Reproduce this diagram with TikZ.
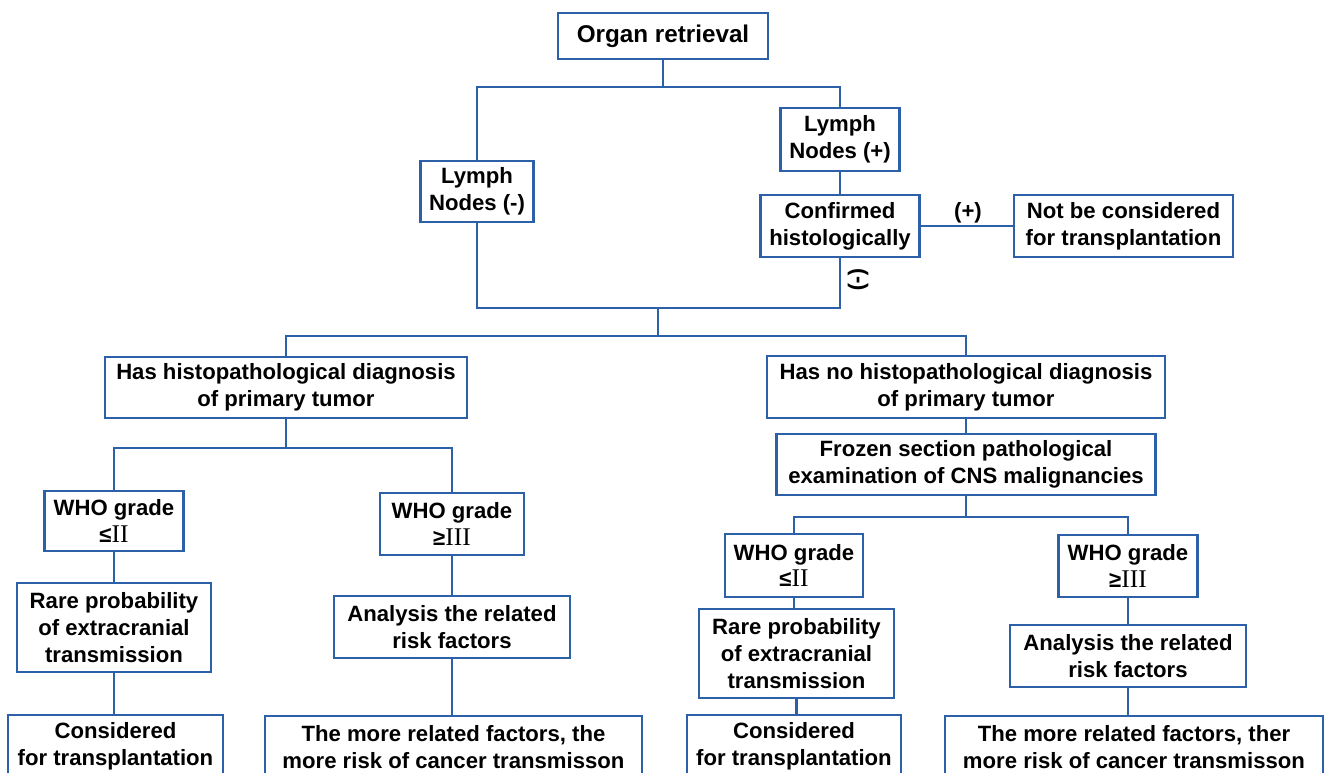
\documentclass[tikz,border=0pt]{standalone}
\usepackage{fontspec}
\setmainfont{Liberation Sans}
\newfontfamily\romanfont{Liberation Serif}
\definecolor{linkblue}{RGB}{44,96,168}
\newcommand{\rmnum}[1]{{\romanfont\mdseries\fontsize{14.5}{15}\selectfont #1}}
\tikzset{
  box/.style={draw=linkblue, line width=1.4pt, fill=white, align=center, inner sep=1pt,
    font=\bfseries\fontsize{12.6}{15.2}\selectfont},
  link/.style={draw=linkblue, line width=1.4pt},
  lbl/.style={inner sep=1pt, font=\bfseries\fontsize{12.6}{15.2}\selectfont},
}
\begin{document}
\begin{tikzpicture}[x=0.02cm,y=-0.02cm]
\useasboundingbox[fill=white] (0,0) rectangle (1325,773);
\node[box, minimum width=4.2cm, minimum height=0.92cm, font=\bfseries\fontsize{13.8}{16}\selectfont] (organ) at (663,36) {Organ retrieval};
\node[box, minimum width=2.26cm, minimum height=1.22cm] (lnneg) at (477,191.5) {Lymph\\Nodes (-)};
\node[box, minimum width=2.38cm, minimum height=1.26cm] (lnpos) at (840,139.5) {Lymph\\Nodes (+)};
\node[box, minimum width=3.18cm, minimum height=1.24cm] (confirmed) at (840,226) {Confirmed\\histologically};
\node[box, minimum width=4.38cm, minimum height=1.24cm] (notcons) at (1123.5,226) {Not be considered\\for transplantation};
\node[box, minimum width=7.24cm, minimum height=1.22cm] (hashist) at (286,387.5) {Has histopathological diagnosis\\of primary tumor};
\node[box, minimum width=7.96cm, minimum height=1.24cm] (hasno) at (966,387) {Has no histopathological diagnosis\\of primary tumor};
\node[box, minimum width=7.58cm, minimum height=1.22cm] (frozen) at (966,464.5) {Frozen section pathological\\examination of CNS malignancies};
\node[box, minimum width=2.78cm, minimum height=1.2cm] (whoLa) at (114,521) {WHO grade\\≤\rmnum{II}};
\node[box, minimum width=2.88cm, minimum height=1.24cm] (whoLb) at (452,524) {WHO grade\\≥\rmnum{III}};
\node[box, minimum width=3.88cm, minimum height=1.78cm] (rareL) at (114,627.5) {Rare probability\\of extracranial\\transmission};
\node[box, minimum width=4.72cm, minimum height=1.24cm] (analysisL) at (452,627) {Analysis the related\\risk factors};
\node[box, minimum width=4.3cm, minimum height=1.24cm] (consL) at (115.5,746) {Considered\\for transplantation};
\node[box, minimum width=7.54cm, minimum height=1.24cm] (moreL) at (453.5,747) {The more related factors, the\\more risk of cancer transmisson};
\node[box, minimum width=2.76cm, minimum height=1.26cm] (whoRa) at (794,565.5) {WHO grade\\≤\rmnum{II}};
\node[box, minimum width=2.78cm, minimum height=1.24cm] (whoRb) at (1128,566) {WHO grade\\≥\rmnum{III}};
\node[box, minimum width=3.9cm, minimum height=1.78cm] (rareR) at (796.5,653.5) {Rare probability\\of extracranial\\transmission};
\node[box, minimum width=4.72cm, minimum height=1.24cm] (analysisR) at (1128,656) {Analysis the related\\risk factors};
\node[box, minimum width=4.28cm, minimum height=1.24cm] (consR) at (794,746) {Considered\\for transplantation};
\node[box, minimum width=7.56cm, minimum height=1.24cm] (moreR) at (1134,747) {The more related factors, ther\\more risk of cancer transmisson};
\node[lbl] (plus) at (968,213) {(+)};
\node[lbl, rotate=-90] (minus) at (858,280) {(-)};
\coordinate (busA) at (663,87);
\coordinate (busB) at (658,308);
\coordinate (busC) at (658,336);
\coordinate (busD) at (286,448);
\coordinate (busE) at (966,517);
\draw[link] (organ.south) -- (busA);
\draw[link] (lnneg.north) |- (busA) -| (lnpos.north);
\draw[link] (lnpos.south) -- (lnpos.south |- confirmed.north);
\draw[link] (confirmed.east) -- (confirmed.east -| notcons.west);
\draw[link] (lnneg.south) |- (busB) -| (confirmed.south);
\draw[link] (busB) -- (busC);
\draw[link] (hashist.north) |- (busC) -| (hasno.north);
\draw[link] (hasno.south) -- (hasno.south |- frozen.north);
\draw[link] (hashist.south) -- (busD);
\draw[link] (whoLa.north) |- (busD) -| (whoLb.north);
\draw[link] (frozen.south) -- (busE);
\draw[link] (whoRa.north) |- (busE) -| (whoRb.north);
\draw[link] (whoLa.south) -- (whoLa.south |- rareL.north);
\draw[link] (rareL.south) -- (rareL.south |- consL.north);
\draw[link] (whoLb.south) -- (whoLb.south |- analysisL.north);
\draw[link] (analysisL.south) -- (analysisL.south |- moreL.north);
\draw[link] (whoRa.south) -- (whoRa.south |- rareR.north);
\draw[link] (rareR.south) -- (rareR.south |- consR.north);
\draw[link] (whoRb.south) -- (whoRb.south |- analysisR.north);
\draw[link] (analysisR.south) -- (analysisR.south |- moreR.north);
\end{tikzpicture}
\end{document}
